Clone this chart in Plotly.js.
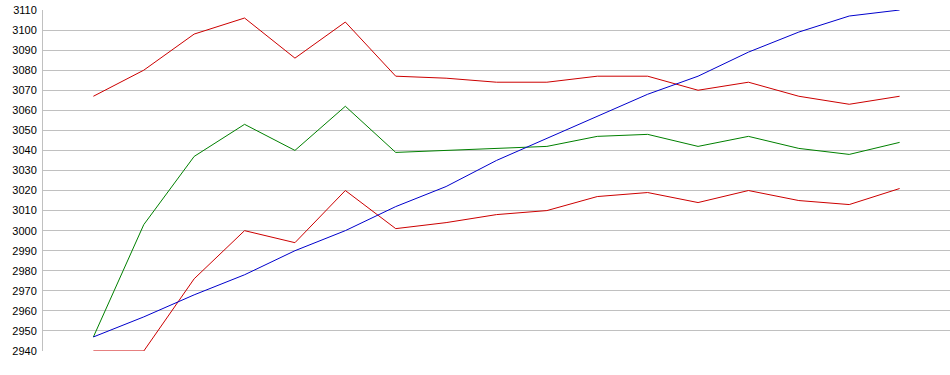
<!DOCTYPE html>
<html>
<head>
<meta charset="utf-8">
<script src="https://cdn.plot.ly/plotly-3.0.1.min.js"></script>
<style>html,body{margin:0;padding:0;background:#fff;}#chart{width:950px;height:375px;}</style>
</head>
<body>
<div id="chart"></div>
<script>
const categories = [0,1,2,3,4,5,6,7,8,9,10,11,12,13,14,15,16];
const upperBand = [3067,3080,3098,3106,3086,3104,3077,3076,3074,3074,3077,3077,3070,3074,3067,3063,3067];
const middle = [2947,3003,3037,3053,3040,3062,3039,3040,3041,3042,3047,3048,3042,3047,3041,3038,3044];
const lowerBand = [2940,2940,2976,3000,2994,3020,3001,3004,3008,3010,3017,3019,3014,3020,3015,3013,3021];
const trend = [2947,2957,2968,2978,2990,3000,3012,3022,3035,3046,3057,3068,3077,3089,3099,3107,3110];
const yTicks = [2940,2950,2960,2970,2980,2990,3000,3010,3020,3030,3040,3050,3060,3070,3080,3090,3100,3110];

function line(y, color) {
  return {x: categories, y: y, type: 'scatter', mode: 'lines',
          line: {color: color, width: 1}, hoverinfo: 'skip'};
}
const data = [
  line(upperBand, '#cc0000'),
  line(lowerBand, '#cc0000'),
  line(middle, '#008000'),
  line(trend, '#0000cc')
];
const layout = {
  width: 950, height: 375,
  margin: {l: 43, r: 0, t: 10, b: 24, pad: 0},
  paper_bgcolor: '#ffffff', plot_bgcolor: '#ffffff',
  showlegend: false,
  xaxis: {range: [-1, 17], showgrid: false, zeroline: false, showticklabels: false, ticks: '', showline: false, fixedrange: true},
  yaxis: {range: [2940, 3110], tickvals: yTicks, ticktext: yTicks.map(String),
          showgrid: true, gridcolor: '#c0c0c0', gridwidth: 1, zeroline: false,
          showline: true, linecolor: '#c0c0c0', linewidth: 1,
          ticks: '', ticklen: 0, ticklabelstandoff: 3,
          tickfont: {family: 'Liberation Sans, Arial, sans-serif', size: 11, color: '#000000'},
          fixedrange: true}
};
Plotly.newPlot('chart', data, layout, {staticPlot: true, displayModeBar: false});
</script>
</body>
</html>
